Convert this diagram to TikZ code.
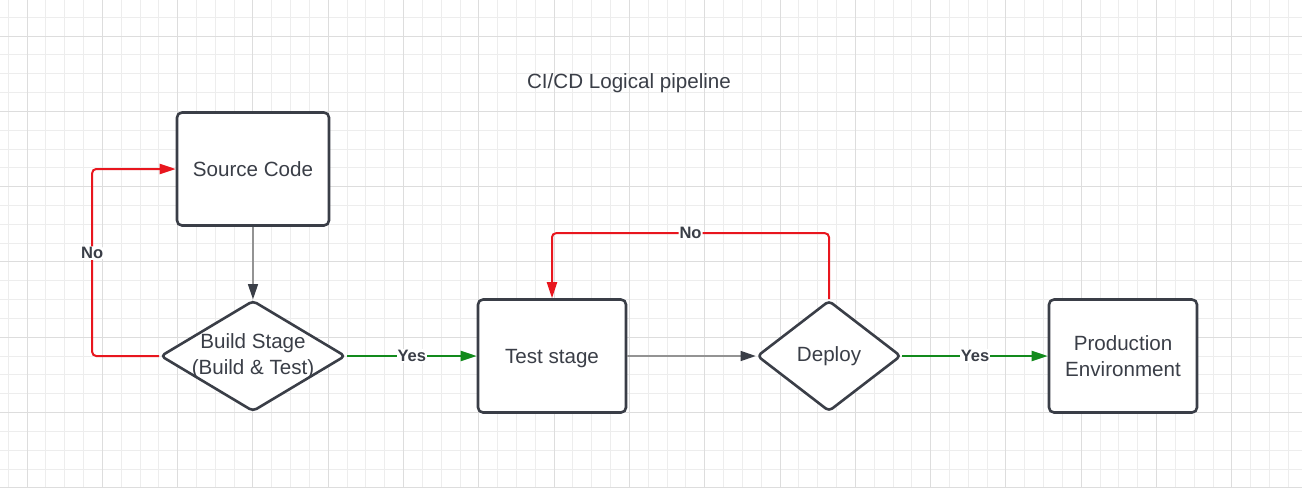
\documentclass[tikz,border=0pt]{standalone}
\usepackage{fontspec}
\setmainfont{Liberation Sans}
\usetikzlibrary{shapes,arrows.meta}
\definecolor{ink}{RGB}{58,62,71}
\definecolor{nored}{RGB}{232,22,30}
\definecolor{yesgreen}{RGB}{18,138,28}
\definecolor{gridmajor}{RGB}{221,221,221}
\definecolor{gridminor}{RGB}{237,237,237}
\begin{document}
\begin{tikzpicture}[x=1pt,y=-1pt,line join=round]
\tikzstyle{every node}=[text=ink,font=\fontsize{20.6}{25.5}\selectfont,align=center]
\tikzstyle{stage}=[rectangle,draw=ink,line width=2.6pt,rounded corners=5pt,fill=white,minimum width=#1,minimum height=113pt]
\tikzstyle{decision}=[diamond,draw=ink,line width=2.6pt,rounded corners=4pt,fill=white,inner sep=0pt,minimum width=#1,minimum height=111pt]
\tikzstyle{answer}=[fill=white,inner sep=1pt,font=\fontsize{16.5}{18}\selectfont\bfseries]
\tikzstyle{flow}=[line width=1.3pt,draw=gray!85,-{Triangle[length=15pt,width=10pt,color=ink]}]
\tikzstyle{noflow}=[line width=2pt,draw=nored,rounded corners=4pt,-{Triangle[length=16pt,width=10pt]}]
\tikzstyle{yesflow}=[line width=2pt,draw=yesgreen,-{Triangle[length=16pt,width=10pt]}]
\useasboundingbox (0,0) rectangle (1302,488);
\fill[white] (0,0) rectangle (1302,488);
\foreach \k in {-1,...,68} \draw[gridminor,line width=0.9pt] ({27+18.825*\k},0) -- ({27+18.825*\k},488);
\foreach \k in {-1,...,24} \draw[gridminor,line width=0.9pt] (0,{36+18.825*\k}) -- (1302,{36+18.825*\k});
\foreach \k in {0,...,16} \draw[gridmajor,line width=1pt] ({27+75.3*\k},0) -- ({27+75.3*\k},488);
\foreach \k in {0,...,6} \draw[gridmajor,line width=1pt] (0,{36+75.3*\k}) -- (1302,{36+75.3*\k});

\node (title) at (629,83) {CI/CD Logical pipeline};
\node[stage=152pt] (src) at (253,169) {Source Code};
\node[decision=185pt] (build) at (253,356) {};
\node (buildtxt) at (253,356) {Build Stage\\(Build \& Test)};
\node[stage=148pt,text depth=0pt] (test) at (552,356) {Test stage};
\node[decision=144pt] (deploy) at (829,356) {Deploy};
\node[stage=148pt] (prod) at (1123,356) {Production\\Environment};

\draw[flow] (src) -- (build);
\draw[noflow] (build.west) -- ++(-67,0) |- (src.west) node[answer,pos=0.275]{No};
\draw[yesflow] (build.east) -- (test.west) node[answer,pos=0.5]{Yes};
\draw[flow] (test.east) -- (deploy.west);
\draw[noflow] (deploy.north) -- ++(0,-66) -| (test.north) node[answer,pos=0.25]{No};
\draw[yesflow] (deploy.east) -- (prod.west) node[answer,pos=0.5]{Yes};
\end{tikzpicture}
\end{document}
